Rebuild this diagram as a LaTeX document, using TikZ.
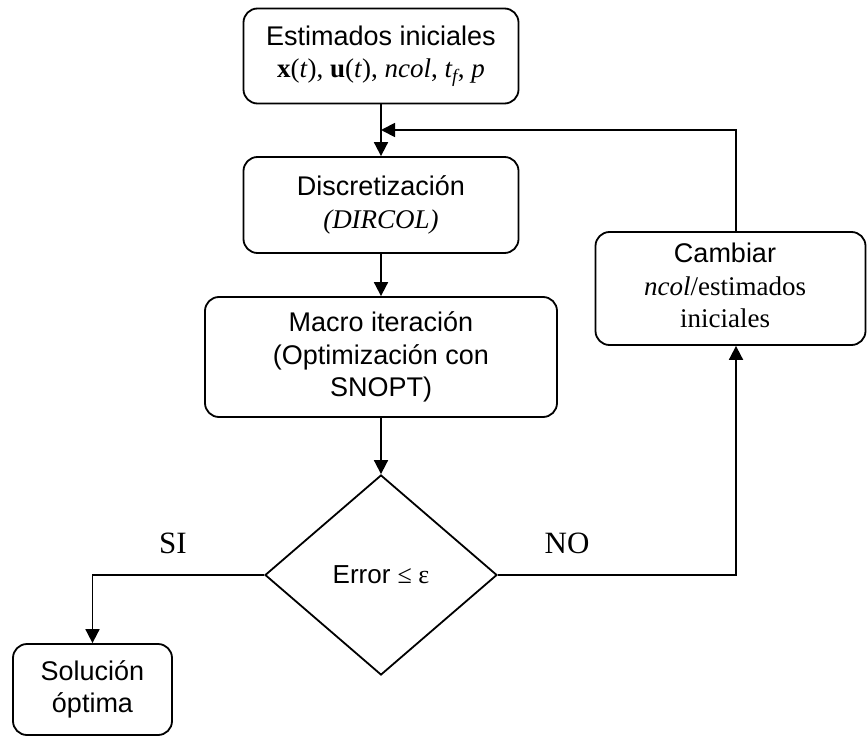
\documentclass[tikz,border=0pt]{standalone}
\usepackage{fontspec}
\setmainfont{Liberation Sans}
\newfontfamily\tms{Liberation Serif}
\usetikzlibrary{shapes.geometric,arrows.meta}
\begin{document}
\begin{tikzpicture}[x=1pt,y=-1pt,
  box/.style={draw, line width=1.8pt, rounded corners=14pt, align=center, inner sep=0pt,
    font=\fontsize{27}{32.5}\selectfont},
  link/.style={line width=1.8pt, -{Triangle[length=14pt,width=14pt]}},
  lbl/.style={font=\tms\fontsize{31}{36}\selectfont, inner sep=0pt}]
\useasboundingbox (0,0) rectangle (867,738);
\node[box, minimum width=275pt, minimum height=95pt] (ini) at (381,56)
  {Estimados iniciales\\{\tms\textbf{x}(\textit{t}), \textbf{u}(\textit{t}), \textit{ncol}, \textit{t\textsubscript{f}}, \textit{p}}};
\node[box, minimum width=275pt, minimum height=96pt] (disc) at (381,205)
  {Discretización\\{\tms\itshape (DIRCOL)}};
\node[box, minimum width=352pt, minimum height=120pt] (mac) at (381,357)
  {Macro iteración\\(Optimización con\\SNOPT)};
\node[draw, line width=1.8pt, diamond, minimum width=232pt, minimum height=200pt, inner sep=0pt,
  font=\fontsize{26}{32}\selectfont] (dia) at (381,575) {Error {\tms ≤ ε}};
\node[box, minimum width=159pt, minimum height=91pt] (sol) at (92.5,689.5)
  {Solución\\óptima};
\node[draw, line width=1.8pt, rounded corners=14pt, inner sep=0pt,
  font=\fontsize{27}{32.5}\selectfont, minimum width=270pt, minimum height=113pt] (cam) at (730.5,288.5)
  {\begin{tabular}{@{}c@{}}Cambiar\\{\tms\textit{ncol}/estimados}\\{\tms iniciales}\end{tabular}\hspace*{11pt}};
\coordinate (cx) at (736,0);
\coordinate (jn) at (381,130);
\node[lbl] (si) at (173,543) {SI};
\node[lbl] (no) at (567,543) {NO};
\draw[link] (ini) -- (disc);
\draw[link] (disc) -- (mac);
\draw[link] (mac) -- (dia);
\draw[link] (dia.west) -- (sol.north |- dia.west) -- (sol.north);
\draw[link] (dia.east) -- (cx |- dia.east) -- (cx |- cam.south);
\draw[link] (cx |- cam.north) -- (cx |- jn) -- (jn);
\end{tikzpicture}
\end{document}
